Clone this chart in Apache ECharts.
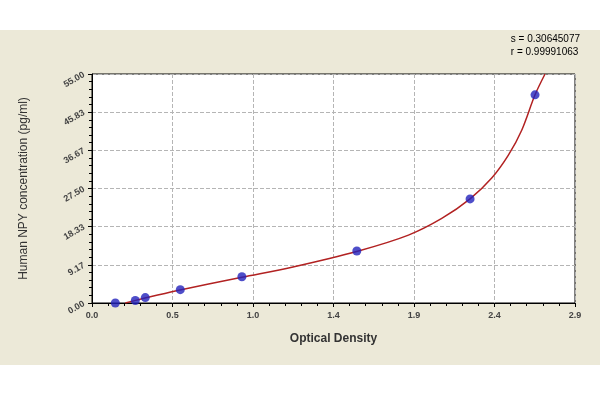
<!DOCTYPE html>
<html><head><meta charset="utf-8">
<script src="https://cdn.jsdelivr.net/npm/echarts@6/dist/echarts.min.js"></script>
<style>html,body{margin:0;background:#fff}#c{width:600px;height:400px}</style>
</head><body><div id="c"></div>
<script>
// standard points (OD, conc)
var pointX = [0.14, 0.26, 0.32, 0.53, 0.90, 1.59, 2.27, 2.66];
var pointY = [0.0, 0.6, 1.3, 3.2, 6.3, 12.5, 25.0, 50.0];
// fitted curve
var curveX = [0.20, 0.30, 0.50, 0.90, 1.20, 1.60, 1.90, 2.10, 2.27, 2.40, 2.50, 2.58, 2.66, 2.72];
var curveY = [0.0, 1.0, 2.9, 6.2, 8.6, 12.5, 16.3, 20.3, 25.0, 30.0, 35.5, 41.5, 50.0, 55.0];

var chart = echarts.init(document.getElementById('c'));
var pts = pointX.map(function (x, i) { return [x, pointY[i]]; });
var crv = curveX.map(function (x, i) { return [x, curveY[i]]; });
var option = {
	backgroundColor: '#ece9d8',
	graphic: [
		{ type: 'rect', shape: { x: 0, y: 0, width: 600, height: 30 }, style: { fill: '#fff' } },
		{ type: 'rect', shape: { x: 0, y: 365, width: 600, height: 35 }, style: { fill: '#fff' } },
		{ type: 'text', right: 20, top: 33, style: { text: 's = 0.30645077\nr = 0.99991063', align: 'right', font: '10px Arial', fill: '#000', lineHeight: 13 } }
	],
	grid: { left: 92, right: 25, top: 74, bottom: 97, backgroundColor: '#fff', show: true, borderColor: '#000', borderWidth: 1 },
	xAxis: {
		type: 'value', min: 0, max: 2.9, interval: 2.9 / 6,
		name: 'Optical Density', nameLocation: 'middle', nameGap: 30,
		nameTextStyle: { fontFamily: 'Arial', fontSize: 12, fontWeight: 'bold', color: '#333' },
		axisLine: { lineStyle: { color: '#000' } },
		axisTick: { length: 4, lineStyle: { color: '#000' } },
		minorTick: { show: true, splitNumber: 5, length: 3, lineStyle: { color: '#000' } },
		axisLabel: { formatter: function (v) { return v.toFixed(1); }, fontFamily: 'Arial', fontSize: 9, fontWeight: 'bold', color: '#444' },
		splitLine: { show: true, lineStyle: { color: '#b5b5b5', type: 'dashed' } }
	},
	yAxis: {
		type: 'value', min: 0, max: 55, interval: 55 / 6,
		name: 'Human NPY concentration (pg/ml)', nameLocation: 'middle', nameGap: 62,
		nameTextStyle: { fontFamily: 'Arial', fontSize: 12, color: '#333' },
		axisLine: { show: true, lineStyle: { color: '#000' } },
		axisTick: { length: 4, lineStyle: { color: '#000' } },
		minorTick: { show: true, splitNumber: 5, length: 3, lineStyle: { color: '#000' } },
		axisLabel: { formatter: function (v) { return v.toFixed(2); }, rotate: 30, fontFamily: 'Arial', fontSize: 9, fontWeight: 'bold', color: '#444' },
		splitLine: { show: true, lineStyle: { color: '#b5b5b5', type: 'dashed' } }
	},
	series: [
		{ type: 'line', data: crv, smooth: 0.3, showSymbol: false, lineStyle: { color: '#b22222', width: 1.5 }, z: 2 },
		{ type: 'scatter', data: pts, symbolSize: 9, itemStyle: { color: '#2222bb' }, z: 3 }
	]
};
chart.setOption(option);
</script></body></html>
